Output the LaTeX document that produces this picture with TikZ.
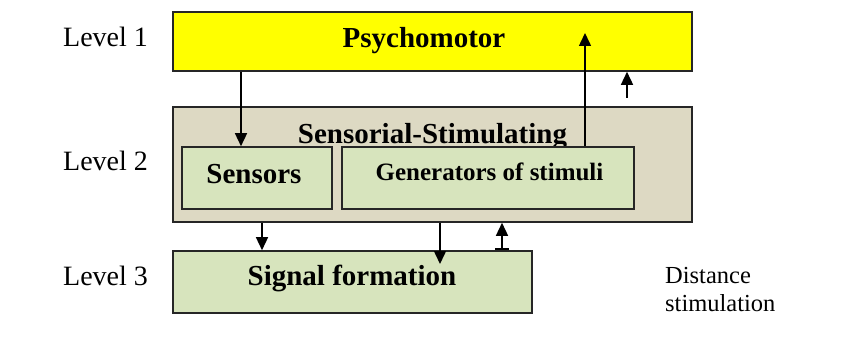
\documentclass[tikz,border=0pt]{standalone}
\usepackage{fontspec}
\setmainfont{Liberation Serif}
\usetikzlibrary{arrows.meta}
\definecolor{psyyellow}{HTML}{FFFF00}
\definecolor{tanbox}{HTML}{DDD9C3}
\definecolor{greenbox}{HTML}{D7E4BD}
\definecolor{edge}{HTML}{262626}
\tikzset{
  box/.style={draw=edge, line width=1.6pt, rectangle, inner sep=0pt},
  bigtxt/.style={font=\fontsize{29}{34}\selectfont\bfseries, inner sep=0pt, anchor=base},
  lvl/.style={font=\fontsize{28}{32}\selectfont, inner sep=0pt, anchor=base west},
  tip/.style={-{Triangle[length=13pt,width=12pt]}},
  conn/.style={line width=1.5pt, tip},
}
\begin{document}
\begin{tikzpicture}[x=1pt,y=-1pt]
\useasboundingbox (0,0) rectangle (854,342);
% boxes
\node[box, fill=psyyellow, minimum width=519pt, minimum height=59pt] (psy) at (432.5,41.5) {};
\node[box, fill=tanbox, minimum width=519pt, minimum height=115pt] (sst) at (432.5,164.5) {};
\node[bigtxt] (ssttxt) at (432.5,143) {Sensorial-Stimulating};
\node[box, fill=greenbox, minimum width=150pt, minimum height=62pt] (sens) at (257,178) {};
\node[box, fill=greenbox, minimum width=292pt, minimum height=62pt] (gen) at (488,178) {};
\node[box, fill=greenbox, minimum width=359pt, minimum height=62pt] (sig) at (352.5,282) {};
% texts
\node[bigtxt] (psytxt) at (424,48) {Psychomotor};
\node[bigtxt] (senstxt) at (254,183) {Sensors};
\node[bigtxt, font=\fontsize{25}{30}\selectfont\bfseries] (gentxt) at (489.5,180) {Generators of stimuli};
\node[bigtxt] (sigtxt) at (352,285) {Signal formation};
\node[lvl] (l1) at (63,47) {Level 1};
\node[lvl] (l2) at (63,170) {Level 2};
\node[lvl] (l3) at (63,285) {Level 3};
\node[lvl, font=\fontsize{24.5}{28}\selectfont] (d1) at (665,283) {Distance};
\node[lvl, font=\fontsize{24.5}{28}\selectfont] (d2) at (665,311) {stimulation};
% connector helper coordinates
\coordinate (c1) at (241,0);
\coordinate (t2) at (585,33);
\coordinate (s3) at (627,98);
\coordinate (c4) at (262,0);
\coordinate (t5) at (440,264);
\coordinate (c6) at (502,0);
% connectors
\draw[conn] (psy.south -| c1) -- (sens.north -| c1);
\draw[conn] (gen.north -| t2) -- (t2);
\draw[conn] (s3) -- (psy.south -| s3);
\draw[conn] (sst.south -| c4) -- (sig.north -| c4);
\draw[conn] (sst.south -| t5) -- (t5);
\draw[line width=1.5pt, {Bar[width=14pt,line width=2.5pt]}-{Triangle[length=13pt,width=12pt]}] (sig.north -| c6) -- (sst.south -| c6);
\end{tikzpicture}
\end{document}
